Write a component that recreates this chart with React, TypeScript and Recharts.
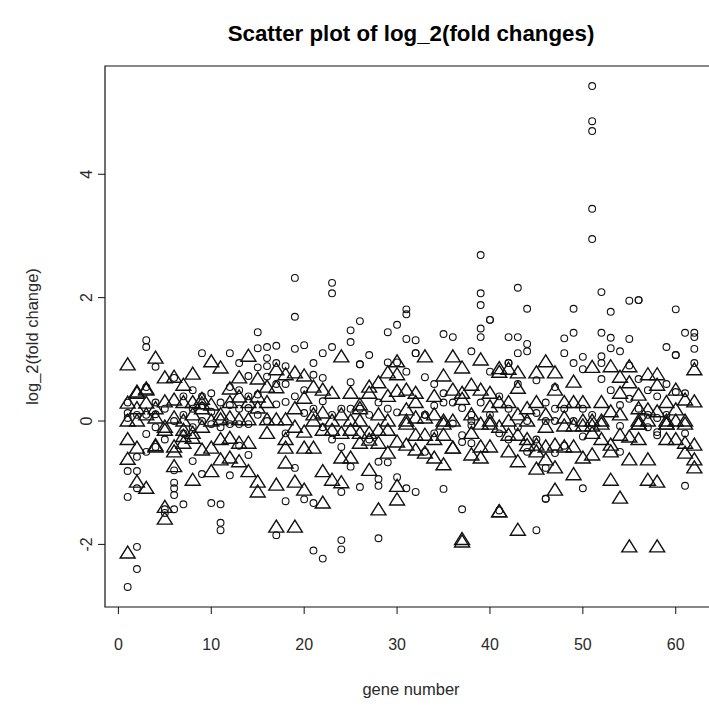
import React from 'react';
import { ScatterChart, Scatter, XAxis, YAxis, ReferenceArea, Label } from 'recharts';

// log2 fold changes per gene (index 0 = gene 1), first series drawn as open circles
const diamondValues: number[][] = [
  [0.13, 0.3, -0.81, -1.23, -2.69, 0.05],
  [-0.58, -0.81, -1.09, -2.04, -2.4, 0.1],
  [1.31, 1.2, -0.21, 0.55, 0.1, -0.5],
  [0.88, 0.11, -0.42, 0.3, -0.1],
  [-1.43, -1.49, 0.2, -0.3],
  [-0.8, -1.0, -1.09, -1.2, -1.43, 0.7, 0.0],
  [-1.35, 0.1, -0.2, 0.4],
  [-0.65, 0.2, 0.5, -0.1],
  [1.1, 0.4, -0.86, 0.25, 0.0],
  [-1.33, 0.15, -0.05, 0.45],
  [-1.35, -1.65, -1.77, 0.3, -0.1],
  [1.1, 0.26, -0.88, -0.05, 0.55],
  [0.94, 0.5, -0.05, 0.2, -0.4],
  [0.73, 0.21, -0.55, -0.05, 0.4],
  [1.44, 1.18, 0.87, 0.43, 0.1],
  [1.2, 1.02, 0.89, 0.72, 0.0],
  [1.22, 0.94, 0.27, -1.85, 0.6],
  [0.89, 0.31, -1.3, 0.6, -0.2],
  [2.32, 1.69, 1.17, -0.76, 0.4],
  [1.23, 0.13, -1.27, 0.5],
  [0.94, 0.75, -1.33, -2.1, 0.2],
  [1.1, 0.7, 0.32, -2.23, -0.1],
  [2.24, 2.07, 1.2, 0.1, -0.3],
  [-0.42, -1.15, -1.93, -2.08, 0.2],
  [1.47, 1.28, 0.63, -0.74, 0.2],
  [1.62, 0.92, 0.92, -1.07, 0.2],
  [1.07, 0.1, -0.3],
  [-0.66, -0.94, -1.05, -1.9, 0.3],
  [1.44, 0.95, -0.67, 0.2],
  [1.56, 0.95, 0.14, -0.91],
  [1.81, 1.73, 1.33, 0.8, -1.09],
  [1.31, 1.1, 1.1, -1.15],
  [0.71, 0.1, 0.1, -0.5],
  [0.6, -0.2, 0.25],
  [1.41, 0.45, 0.3, -1.1],
  [1.36, -0.04, 0.3],
  [0.21, -0.23, -0.34, -1.43],
  [1.13, 0.1, 0.0, -0.07, -0.36],
  [2.69, 2.07, 1.88, 1.5, 1.36, 0.3],
  [1.64, 1.64, 0.8, 0.1],
  [-0.2, -1.45, 0.4],
  [1.36, 0.94, 0.94, 0.2, -0.3],
  [2.16, 1.36, 1.1, 0.6, -0.1],
  [1.82, 1.25, 1.13, 0.0, -0.5],
  [0.66, 0.13, -1.77, -0.3],
  [-0.76, -1.26, -1.26, 0.0, 0.3],
  [0.55, -0.52, 0.0, 0.2],
  [1.34, 1.1, 0.2, -0.4],
  [1.82, 1.43, 0.94, 0.0],
  [1.04, 0.84, -0.25, -1.09, 0.2],
  [5.43, 4.86, 4.7, 3.44, 2.95, 0.1],
  [2.09, 1.43, 1.05, 0.94, 0.68],
  [1.77, 1.35, 1.18, 0.5],
  [1.13, 0.26, -0.08, -0.5],
  [1.95, 1.33, 0.9, 0.36],
  [1.96, 1.96, 0.68, 0.2],
  [0.1, -0.1, 0.5],
  [0.05, -0.18, -0.23, 0.4],
  [1.2, 0.6, 0.1],
  [1.81, 1.07, 1.07, 0.47],
  [1.43, 0.45, -0.2, -1.05],
  [1.43, 1.36, 1.17, 0.94],
];

// second series per gene, drawn as open triangles
const triangleValues: number[][] = [
  [0.91, 0.29, 0.0, -0.62, -2.14, -0.3],
  [0.47, 0.0, -0.44, -0.99, 0.45, 0.2],
  [0.5, 0.29, -1.09, 0.52, 0.1],
  [1.02, -0.42, 0.05, -0.4, 0.2],
  [0.7, 0.31, -0.1, -0.15, -1.59, -1.4],
  [0.71, 0.34, -0.42, -0.5, -0.74, 0.05],
  [0.58, -0.15, -0.25, -0.36, 0.3, 0.0],
  [0.76, 0.3, -0.28, -0.96, 0.1, -0.2],
  [0.28, -0.47, 0.2, 0.35, -0.1],
  [0.96, 0.26, -0.44, -0.82, 0.0],
  [0.86, 0.02, -0.3, -0.63, 0.1],
  [0.52, -0.28, -0.6, 0.05, 0.3],
  [0.7, 0.39, 0.02, -0.36, -0.66],
  [1.05, 0.02, -0.36, -0.82, 0.3],
  [0.68, 0.39, 0.21, -0.99, -1.15],
  [0.02, 0.3, -0.2, 0.55],
  [0.83, 0.54, 0.02, -1.04, -1.72],
  [0.75, 0.02, -0.44, -0.68, -0.3],
  [0.78, -0.99, -1.72, 0.2, -0.1],
  [0.73, 0.37, -0.18, -0.44, -1.12],
  [0.55, 0.0, -0.44, 0.1],
  [0.5, 0.13, -0.82, -1.33, -0.15],
  [0.45, 0.0, -0.15, -0.96],
  [1.04, -0.2, -0.6, -1.0, 0.1],
  [0.45, 0.0, -0.15, -0.6],
  [0.26, 0.2, 0.0, -0.2, -0.36],
  [0.55, 0.45, -0.2, -0.31, -0.8],
  [0.62, -0.15, -0.36, -1.44, 0.1],
  [0.78, 0.0, -0.15, -0.52, 0.4],
  [0.96, 0.75, 0.48, -0.34, -1.06, -1.28],
  [0.5, 0.18, 0.0, -0.05, -0.39],
  [0.45, 0.3, -0.23, -0.47, 0.05],
  [1.04, -0.23, -0.52, 0.05],
  [0.4, -0.3, 0.1, -0.6],
  [0.73, 0.0, -0.05, -0.23, -0.71],
  [1.04, 0.0, -0.44, -0.44, 0.5],
  [0.86, 0.45, 0.35, -1.96, -1.92],
  [0.58, -0.55, 0.1, -0.2],
  [0.99, -0.05, -0.42, -0.6, 0.5],
  [0.45, 0.23, -0.05, -0.42, 0.0],
  [0.85, 0.79, 0.3, -1.47, -1.47, -0.1],
  [0.84, -0.23, -0.5, 0.0, 0.3],
  [0.78, 0.53, -0.23, -0.66, -1.77, 0.1],
  [0.2, -0.3, 0.0, -0.4],
  [0.78, 0.3, -0.39, -0.5, -0.78],
  [0.96, -0.1, -0.42, -0.63, 0.1],
  [0.78, 0.5, -0.39, -0.76, -1.12],
  [0.3, -0.08, -0.42, 0.05],
  [0.63, 0.3, -0.08, -0.42, -0.87],
  [0.3, -0.08, -0.6, 0.0],
  [0.87, 0.0, -0.08, -0.2, -0.55],
  [0.0, -0.05, 0.3, -0.3],
  [0.88, 0.15, -0.39, -0.5, -0.96],
  [0.71, 0.45, -0.23, -1.25, 0.1],
  [0.88, 0.62, -0.26, -0.63, -2.04],
  [0.42, 0.0, -0.05, -0.05, -0.3, 0.2],
  [0.75, 0.18, 0.0, -0.63, -0.96],
  [0.75, 0.58, 0.15, -0.99, -2.04],
  [0.0, -0.05, -0.05, 0.3, -0.3],
  [0.18, -0.3, 0.0, 0.5],
  [0.34, 0.0, -0.05, -0.36, -0.52],
  [0.83, 0.31, -0.39, -0.63, -0.76],
];

const xTicks = [0, 10, 20, 30, 40, 50, 60];
const yTicks = [-2, 0, 2, 4];
const chartTitle = 'Scatter plot of log_2(fold changes)';
const xTitle = 'gene number';
const yTitle = 'log_2(fold change)';

type Pt = { gene: number; value: number };
const toPoints = (rows: number[][]): Pt[] =>
  rows.flatMap((vals, i) => vals.map((v) => ({ gene: i + 1, value: v })));

const circlePoints = toPoints(diamondValues);
const trianglePoints = toPoints(triangleValues);

// R-style axis extents: data range padded by 4% on each side
const geneCount = diamondValues.length;
const allValues = [...diamondValues.flat(), ...triangleValues.flat()];
const yLo = Math.min(...allValues);
const yHi = Math.max(...allValues);
const yPad = (yHi - yLo) * 0.04;
const yDomain: [number, number] = [yLo - yPad, yHi + yPad];
const xPad = (geneCount - 1) * 0.04;
const xDomain: [number, number] = [1 - xPad, geneCount + xPad];

const FONT = '"Liberation Sans", Arial, sans-serif';
const TEXT = '#2a2a2a';

const WIDTH = 737;
const HEIGHT = 707;
const MARGIN = { top: 66, right: 20, bottom: 0, left: 0 };
const Y_AXIS_W = 105;
const X_AXIS_H = 100;
const plotLeft = MARGIN.left + Y_AXIS_W;
const plotWidth = WIDTH - MARGIN.right - plotLeft;

const CircleMark = (props: any) => {
  const { cx, cy } = props;
  if (cx == null || cy == null) return null;
  return <circle cx={cx} cy={cy} r={3.4} fill="none" stroke="#111" strokeWidth={1.1} />;
};

const TriangleMark = (props: any) => {
  const { cx, cy } = props;
  if (cx == null || cy == null) return null;
  const pts = `${cx},${cy - 7} ${cx - 7.5},${cy + 5} ${cx + 7.5},${cy + 5}`;
  return <polygon points={pts} fill="none" stroke="#111" strokeWidth={1.4} strokeLinejoin="miter" />;
};

const XTick = (props: any) => {
  const { x, y, payload } = props;
  return (
    <text x={x} y={y + 34} textAnchor="middle" fontSize={16} fontFamily={FONT} fill={TEXT}>
      {payload.value}
    </text>
  );
};

const YTick = (props: any) => {
  const { x, y, payload } = props;
  const cx = x - 9;
  return (
    <text
      x={cx}
      y={y}
      transform={`rotate(-90 ${cx} ${y})`}
      textAnchor="middle"
      dominantBaseline="central"
      fontSize={16}
      fontFamily={FONT}
      fill={TEXT}
    >
      {payload.value}
    </text>
  );
};

export default function App() {
  return (
    <div
      style={{
        position: 'fixed',
        left: 0,
        top: 0,
        width: 709,
        height: 707,
        overflow: 'hidden',
        background: '#fff',
      }}
    >
      <div
        style={{
          position: 'absolute',
          left: plotLeft,
          width: plotWidth,
          top: 21,
          textAlign: 'center',
          fontFamily: FONT,
          fontWeight: 'bold',
          fontSize: 22.3,
          color: '#000',
          whiteSpace: 'nowrap',
        }}
      >
        {chartTitle}
      </div>
      <ScatterChart width={WIDTH} height={HEIGHT} margin={MARGIN}>
        <XAxis
          type="number"
          dataKey="gene"
          domain={xDomain}
          ticks={xTicks}
          interval={0}
          allowDataOverflow
          axisLine={false}
          tickLine={{ stroke: '#111', strokeWidth: 1 }}
          tickSize={7}
          height={X_AXIS_H}
          tick={<XTick />}
        >
          <Label
            content={(p: any) => {
              const vb = p.viewBox;
              return (
                <text
                  x={vb.x + vb.width / 2}
                  y={vb.y + 88}
                  textAnchor="middle"
                  fontSize={16.5}
                  fontFamily={FONT}
                  fill={TEXT}
                >
                  {xTitle}
                </text>
              );
            }}
          />
        </XAxis>
        <YAxis
          type="number"
          dataKey="value"
          domain={yDomain}
          ticks={yTicks}
          interval={0}
          allowDataOverflow
          axisLine={false}
          tickLine={{ stroke: '#111', strokeWidth: 1 }}
          tickSize={7}
          width={Y_AXIS_W}
          tick={<YTick />}
        >
          <Label
            content={(p: any) => {
              const vb = p.viewBox;
              const cy = vb.y + vb.height / 2;
              return (
                <text
                  x={32}
                  y={cy}
                  transform={`rotate(-90 32 ${cy})`}
                  textAnchor="middle"
                  dominantBaseline="central"
                  fontSize={16.5}
                  fontFamily={FONT}
                  fill={TEXT}
                >
                  {yTitle}
                </text>
              );
            }}
          />
        </YAxis>
        <ReferenceArea
          x1={xDomain[0]}
          x2={xDomain[1]}
          y1={yDomain[0]}
          y2={yDomain[1]}
          fill="none"
          stroke="#111"
          strokeWidth={1.2}
          ifOverflow="visible"
        />
        <Scatter data={circlePoints} shape={<CircleMark />} isAnimationActive={false} />
        <Scatter data={trianglePoints} shape={<TriangleMark />} isAnimationActive={false} />
      </ScatterChart>
    </div>
  );
}
